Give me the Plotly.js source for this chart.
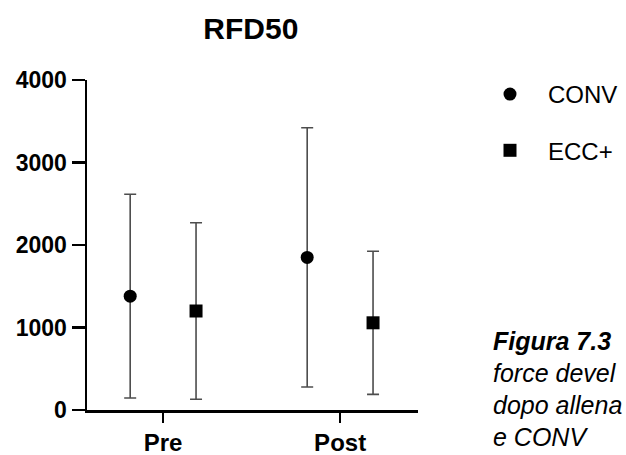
<!DOCTYPE html>
<html>
<head>
<meta charset="utf-8">
<script src="https://cdn.plot.ly/plotly-3.0.1.min.js"></script>
<style>
  html, body { margin: 0; padding: 0; background: #fff; }
  #chart { width: 626px; height: 455px; }
</style>
</head>
<body>
<div id="chart"></div>
<script>
// ---- data ----
const categories = ["Pre", "Post"];
const seriesNames = ["CONV", "ECC+"];
const convMean = [1380, 1850];
const convSD = [1235, 1572];
const eccMean = [1200, 1057];
const eccSD = [1070, 868];
const yTicks = [0, 1000, 2000, 3000, 4000];
const captionLines = ["Figura 7.3", "force devel", "dopo allena", "e CONV"];

const FONT = "Liberation Sans, Arial, Helvetica, sans-serif";
const offset = 0.186;
const idx = categories.map((c, i) => i);

function trace(name, means, sds, shift, symbol, group) {
  return {
    type: "scatter",
    mode: "markers",
    name: name,
    legendgroup: group,
    x: idx.map(i => i + shift),
    y: means,
    marker: { color: "#000", size: 13, symbol: symbol },
    error_y: { type: "data", array: sds, visible: true, color: "#4d4d4d", thickness: 1.6, width: 6 },
    cliponaxis: false
  };
}

const data = [
  trace(seriesNames[0], convMean, convSD, -offset, "circle", "a"),
  trace(seriesNames[1], eccMean, eccSD, offset, "square", "b")
];

const capY = [341, 373, 405, 437];
const annotations = captionLines.map((t, i) => ({
  xref: "paper", yref: "paper",
  x: (491 - 87) / 331, y: (410 - capY[i]) / 330,
  xanchor: "left", yanchor: "middle",
  text: i === 0 ? "<b><i>" + t + "</i></b>" : "<i>" + t + "</i>",
  showarrow: false,
  font: { family: FONT, size: 25, color: "#000" }
}));

const layout = {
  width: 626, height: 455,
  paper_bgcolor: "#fff", plot_bgcolor: "#fff",
  margin: { l: 87, r: 208, t: 80, b: 45, autoexpand: false },
  font: { family: FONT, color: "#000" },
  title: {
    text: "<b>RFD50</b>",
    font: { family: FONT, size: 30, color: "#000" },
    xref: "paper", x: 0.495, xanchor: "center",
    yref: "container", y: 1 - 28 / 455, yanchor: "middle"
  },
  xaxis: {
    range: [-0.43, 1.44],
    tickmode: "array", tickvals: idx, ticktext: categories.map(c => "<b>" + c + "</b>"),
    showline: true, linecolor: "#000", linewidth: 2.5,
    ticks: "outside", ticklen: 10, tickwidth: 2.5, tickcolor: "#000",
    showgrid: false, zeroline: false,
    tickfont: { family: FONT, size: 24, color: "#000" },
    fixedrange: true
  },
  yaxis: {
    range: [0, 4000],
    tickmode: "array", tickvals: yTicks, ticktext: yTicks.map(v => "<b>" + v + "</b>"),
    showline: true, linecolor: "#000", linewidth: 2.5,
    ticks: "outside", ticklen: 13, tickwidth: 2.5, tickcolor: "#000",
    showgrid: false, zeroline: false,
    tickfont: { family: FONT, size: 23, color: "#000" },
    fixedrange: true
  },
  showlegend: true,
  legend: {
    xref: "container", yref: "container",
    x: 472 / 626, xanchor: "left",
    y: 1 - 72 / 455, yanchor: "top",
    traceorder: "grouped", tracegroupgap: 22,
    itemwidth: 66,
    font: { family: FONT, size: 24, color: "#000" },
    bgcolor: "rgba(0,0,0,0)"
  },
  annotations: annotations
};

Plotly.newPlot("chart", data, layout, { displayModeBar: false, staticPlot: true });
</script>
</body>
</html>
